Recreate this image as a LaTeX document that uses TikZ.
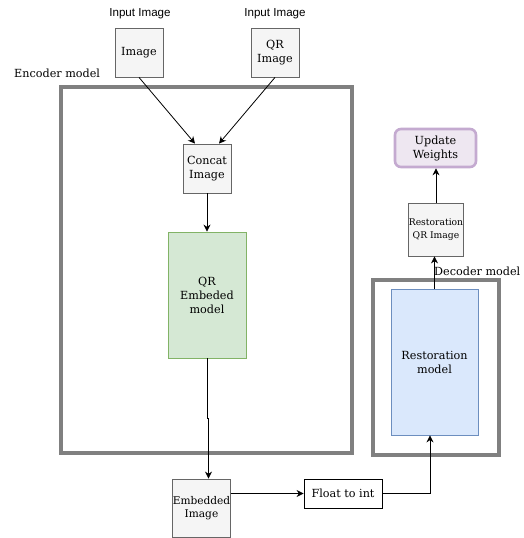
\documentclass[tikz,border=0pt]{standalone}
\usepackage{fontspec}
\setmainfont{DejaVu Serif}
\setsansfont{Liberation Sans}
\usetikzlibrary{arrows.meta,positioning}
\definecolor{boxgray}{HTML}{F5F5F5}
\definecolor{boxline}{HTML}{666666}
\definecolor{framegray}{HTML}{808080}
\definecolor{greenfill}{HTML}{D5E8D4}
\definecolor{greenline}{HTML}{82B366}
\definecolor{bluefill}{HTML}{DAE8FC}
\definecolor{blueline}{HTML}{6C8EBF}
\definecolor{purplefill}{HTML}{EEE7F1}
\definecolor{purpleline}{HTML}{C4AAD0}
\tikzset{
  x=1pt, y=-1pt,
  every node/.style={inner sep=0pt, align=center},
  txt/.style={font=\fontsize{11.2}{14}\selectfont},
  graybox/.style={draw=boxline, fill=boxgray, line width=0.8pt, txt},
  smallbox/.style={draw=boxline, fill=boxgray, line width=0.8pt, font=\fontsize{9.2}{12.5}\selectfont},
  frame/.style={draw=framegray, line width=3.5pt},
  link/.style={draw=black, line width=0.8pt, -{Stealth[length=7pt,width=7pt]}},
  caption/.style={font=\sffamily\fontsize{11.6}{14}\selectfont},
  framelabel/.style={txt, anchor=west}
}
\begin{document}
\begin{tikzpicture}
\useasboundingbox (0,0) rectangle (524,538);

% encoder and decoder frames
\draw[frame] (61,87) rectangle (352,453);
\draw[frame] (373,280) rectangle (499,455);
\node[framelabel] (enclabel) at (14,73) {Encoder model};
\node[framelabel] (declabel) at (434,271) {Decoder model};

% inputs
\node[caption] (cap1) at (140,14) {Input Image};
\node[caption] (cap2) at (275,14) {Input Image};
\node[graybox, minimum width=48pt, minimum height=49pt] (img) at (139,52.5) {Image};
\node[graybox, minimum width=48pt, minimum height=49pt] (qr) at (275,52.5) {QR\\Image};

% encoder
\node[graybox, minimum width=48pt, minimum height=49pt] (concat) at (207,168.5) {Concat\\Image};
\node[draw=greenline, fill=greenfill, line width=0.8pt, minimum width=78pt, minimum height=126pt, txt]
  (embed) at (207,295) {QR\\Embeded\\model};

% output path
\node[smallbox, minimum width=57pt, minimum height=58pt, font=\fontsize{10.6}{13.5}\selectfont]
  (embimg) at (201.5,508) {Embedded\\Image};
\node[draw=black, fill=white, line width=0.8pt, minimum width=78pt, minimum height=29pt, txt]
  (float) at (343,493.5) {Float to int};

% decoder
\node[draw=blueline, fill=bluefill, line width=0.8pt, minimum width=87pt, minimum height=146pt, txt]
  (restore) at (434.5,362) {Restoration\\model};
\node[smallbox, minimum width=52pt, minimum height=53pt] (resqr) at (436,229.5) {Restoration\\QR Image};
\node[draw=purpleline, fill=purplefill, line width=2.6pt, rounded corners=6pt,
      minimum width=81pt, minimum height=38pt, txt] (update) at (435.5,148) {Update\\Weights};

% connectors
\coordinate (jogA) at (207,418);
\coordinate (jogB) at (208.5,418);
\coordinate (bend) at (430,493.5);
\draw[link] (img.south) -- ([xshift=-12pt]concat.north);
\draw[link] (qr.south) -- ([xshift=12pt]concat.north);
\draw[link] (concat.south) -- (embed.north);
\draw[link] (embed.south) -- (jogA) -- (jogB) -- (embimg.north -| jogB);
\draw[link] (embimg.east |- float) -- (float.west);
\draw[link] (float.east) -- (bend) -- (restore.south -| bend);
\draw[link] (restore.north) -- (resqr.south -| restore.north);
\draw[link] (resqr.north) -- (update.south -| resqr.north);
\end{tikzpicture}
\end{document}
